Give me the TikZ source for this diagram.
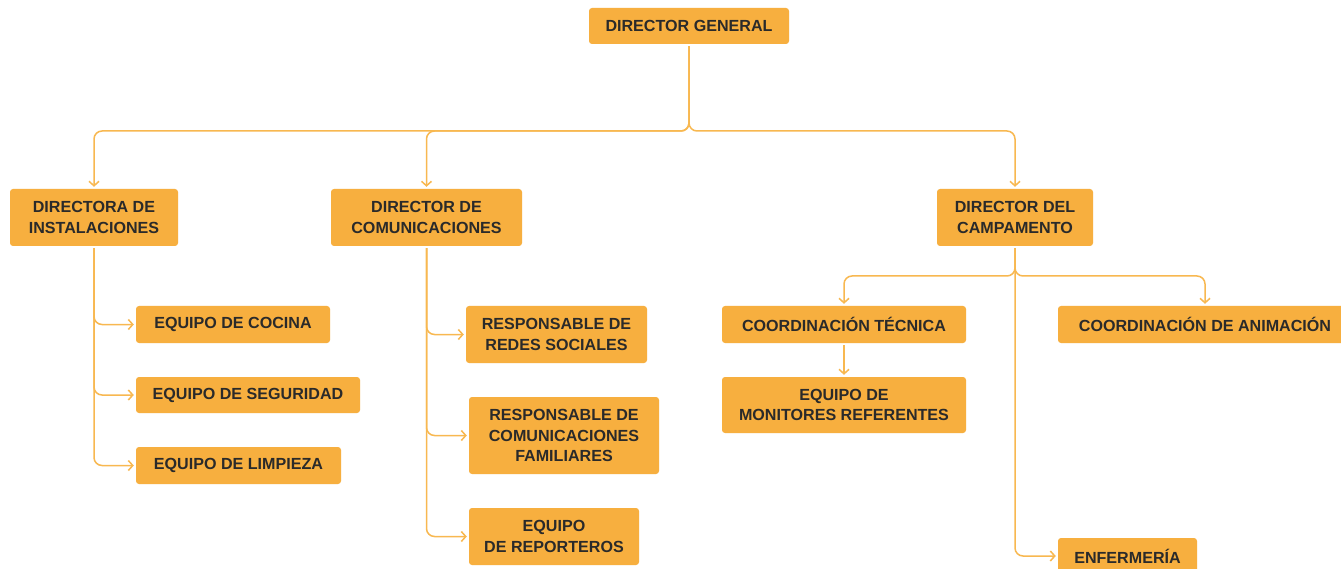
\documentclass[tikz,border=0pt]{standalone}
\usepackage{fontspec}
\setmainfont{Liberation Sans}
\usetikzlibrary{arrows.meta}
\definecolor{boxc}{HTML}{F7AF3F}
\definecolor{linec}{HTML}{F8B850}
\definecolor{txt}{HTML}{2A2A2A}
\begin{document}
\begin{tikzpicture}[x=1pt,y=-1pt,
  box/.style={fill=boxc, rounded corners=3pt, text=txt, font=\bfseries\fontsize{16.1}{20.3}\selectfont, align=center, inner sep=0pt},
  conn/.style={draw=linec, line width=1.5pt, rounded corners=8pt, -{Straight Barb[length=4.5pt,width=10pt]}, shorten >=2pt, shorten <=2pt}]
\useasboundingbox (0,0) rectangle (1341,569);
\clip (0,0) rectangle (1341,569);
\fill[white] (0,0) rectangle (1341,569);
% level 0
\node[box, minimum width=200pt, minimum height=36pt] (dg) at (689,26) {DIRECTOR GENERAL};
% level 1
\node[box, minimum width=168pt, minimum height=57pt] (dirI) at (94,217.5) {DIRECTORA DE\\INSTALACIONES};
\node[box, minimum width=191pt, minimum height=57pt] (dirC) at (426.5,217.5) {DIRECTOR DE\\COMUNICACIONES};
\node[box, minimum width=156pt, minimum height=57pt] (camp) at (1015,217.5) {DIRECTOR DEL\\CAMPAMENTO};
% instalaciones
\node[box, minimum width=194pt, minimum height=37pt] (cocina) at (233,324.5) {EQUIPO DE COCINA};
\node[box, minimum width=224pt, minimum height=36pt] (segur) at (248,395) {EQUIPO DE SEGURIDAD};
\node[box, minimum width=205pt, minimum height=37pt] (limp) at (238.5,465.5) {EQUIPO DE LIMPIEZA};
% comunicaciones
\node[box, minimum width=181pt, minimum height=57pt] (redes) at (556.5,334.5) {RESPONSABLE DE\\REDES SOCIALES};
\node[box, minimum width=190pt, minimum height=77pt] (fam) at (564,435.5) {RESPONSABLE DE\\COMUNICACIONES\\FAMILIARES};
\node[box, minimum width=170pt, minimum height=57pt] (rep) at (554,536.5) {EQUIPO\\DE REPORTEROS};
% campamento
\node[box, minimum width=244pt, minimum height=37pt] (coordT) at (844,324.5) {COORDINACIÓN TÉCNICA};
\node[box, minimum width=294pt, minimum height=37pt] (coordA) at (1205,324.5) {COORDINACIÓN DE ANIMACIÓN};
\node[box, minimum width=244pt, minimum height=56pt] (mon) at (844,405) {EQUIPO DE\\MONITORES REFERENTES};
\node[box, minimum width=139pt, minimum height=36pt] (enf) at (1127.5,556) {ENFERMERÍA};
% connectors
\coordinate (hb) at (689,131);
\coordinate (hc) at (1015,276);
\draw[conn] (dg.south) -- (hb) -| (dirI.north);
\draw[conn] (dg.south) -- (hb) -| (dirC.north);
\draw[conn] (dg.south) -- (hb) -| (camp.north);
\draw[conn] (dirI.south) |- (cocina.west);
\draw[conn] (dirI.south) |- (segur.west);
\draw[conn] (dirI.south) |- (limp.west);
\draw[conn] (dirC.south) |- (redes.west);
\draw[conn] (dirC.south) |- (fam.west);
\draw[conn] (dirC.south) |- (rep.west);
\draw[conn] (camp.south) -- (hc) -| (coordT.north);
\draw[conn] (camp.south) -- (hc) -| (coordA.north);
\draw[conn] (camp.south) |- (enf.west);
\draw[conn] (coordT.south) -- (mon.north);
\end{tikzpicture}
\end{document}
